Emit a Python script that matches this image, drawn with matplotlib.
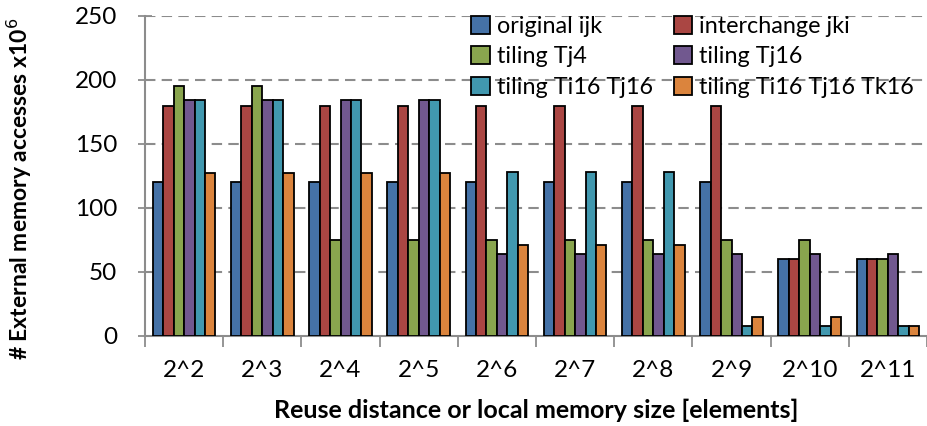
import numpy as np
import matplotlib
matplotlib.use('Agg')
import matplotlib.pyplot as plt

plt.rcParams['font.family'] = ['Lato', 'DejaVu Sans']

# values (x10^6 accesses)
categories = ['2^2', '2^3', '2^4', '2^5', '2^6', '2^7', '2^8', '2^9', '2^10', '2^11']
original_ijk = [120, 120, 120, 120, 120, 120, 120, 120, 60, 60]
interchange_jki = [180, 180, 180, 180, 180, 180, 180, 180, 60, 60]
tiling_tj4 = [195, 195, 75, 75, 75, 75, 75, 75, 75, 60]
tiling_tj16 = [184, 184, 184, 184, 64, 64, 64, 64, 64, 64]
tiling_ti16_tj16 = [184, 184, 184, 184, 128, 128, 128, 8, 8, 8]
tiling_ti16_tj16_tk16 = [127, 127, 127, 127, 71, 71, 71, 15, 15, 8]

series = [original_ijk, interchange_jki, tiling_tj4, tiling_tj16,
          tiling_ti16_tj16, tiling_ti16_tj16_tk16]
labels = ['original ijk', 'interchange jki', 'tiling Tj4', 'tiling Tj16',
          'tiling Ti16 Tj16', 'tiling Ti16 Tj16 Tk16']
colors = ['#4572A7', '#AA4643', '#89A54E', '#71588F', '#4198AF', '#DB843D']

fig = plt.figure(figsize=(9.27, 4.26), dpi=100)
ax = fig.add_axes([145/927, 1 - 336/426, 1 - 145/927, 320/426])

x = np.arange(len(categories))
w = 0.8 / 6
handles = []
for i, (vals, lab, c) in enumerate(zip(series, labels, colors)):
    b = ax.bar(x - 0.4 + w * (i + 0.5), vals, w, color=c, edgecolor='black',
               linewidth=1.3, label=lab, zorder=3)
    handles.append(b)

ax.set_xlim(-0.5, len(categories) - 0.5)
ax.set_ylim(0, 250)
ax.set_yticks([0, 50, 100, 150, 200, 250])
for yv in [50, 100, 150, 200, 250]:
    ax.axhline(yv, color='#8c8c8c', linewidth=1.5, linestyle=(0, (5, 3)), zorder=1)

ax.set_xticks(x)
ax.set_xticklabels(categories)
ax.set_xticks(np.arange(len(categories) + 1) - 0.5, minor=True)
ax.tick_params(axis='x', which='major', length=0, pad=17, labelsize=17.5)
ax.tick_params(axis='x', which='minor', length=8, width=1.3, color='#8c8c8c')
ax.tick_params(axis='y', direction='inout', length=10, width=1.3, color='#8c8c8c',
               pad=15, labelsize=17.5)

for s in ['top', 'right']:
    ax.spines[s].set_visible(False)
for s in ['left', 'bottom']:
    ax.spines[s].set_color('#8c8c8c')
    ax.spines[s].set_linewidth(1.5)

ax.set_ylabel('# External memory accesses x10$^6$', fontsize=16.5, fontweight='bold')
ax.yaxis.set_label_coords(-0.142, 0.46)
ax.set_xlabel('Reuse distance or local memory size [elements]', fontsize=18,
              fontweight='bold', labelpad=13)

# legend reads row by row in the reference
order = [0, 2, 4, 1, 3, 5]
leg = ax.legend(handles=[handles[k] for k in order], labels=[labels[k] for k in order],
                ncol=2, loc='upper left',
                bbox_to_anchor=(471/927, 1 - 16/426), bbox_transform=fig.transFigure,
                frameon=False, fontsize=16.8, handlelength=0.8, handleheight=0.8,
                handletextpad=0.3, columnspacing=0.9, labelspacing=0.4,
                borderaxespad=0, borderpad=0.0)

fig.savefig('out.png', dpi=100)
